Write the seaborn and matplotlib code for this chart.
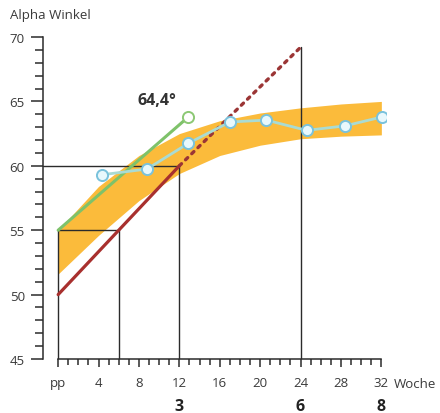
import matplotlib
matplotlib.use("Agg")
import matplotlib.pyplot as plt
import seaborn as sns

# band (normal range)
band_weeks = [0, 4, 8, 12, 16, 20, 24, 28, 32]
band_upper = [55.0, 58.4, 60.8, 62.5, 63.5, 64.1, 64.5, 64.8, 65.0]
band_lower = [51.6, 54.6, 57.3, 59.4, 60.8, 61.6, 62.1, 62.3, 62.4]

# measured alpha angle
meas_weeks = [4.3, 8.8, 12.9, 17.0, 20.6, 24.6, 28.4, 32.1]
meas_alpha = [59.3, 59.75, 61.75, 63.4, 63.55, 62.75, 63.1, 63.8]

# green line
green_weeks = [0, 12.9]
green_alpha = [55, 63.8]

# red line (solid + dotted extension)
red_weeks = [0, 12]
red_alpha = [50, 60]
red_ext_weeks = [12, 24]
red_ext_alpha = [60, 69.2]

x_ticks = [0, 4, 8, 12, 16, 20, 24, 28, 32]
x_ticklabels = ["pp", "4", "8", "12", "16", "20", "24", "28", "32"]
month_pos = [12, 24, 32]
month_labels = ["3", "6", "8"]

sns.set_theme(style="ticks")
plt.rcParams["font.family"] = ["Open Sans", "DejaVu Sans"]

fig = plt.figure(figsize=(4.4, 4.14), dpi=100)
ax = fig.add_axes([43 / 440, 54 / 414, 343.4 / 440, 322 / 414])

dark = "#2b2b2b"
txt = "#3a3a3a"

ax.fill_between(band_weeks, band_lower, band_upper, color="#fbbb3b", lw=0, zorder=1)

# guide lines
ax.plot([-1.5, 12], [60, 60], color=dark, lw=1.0, zorder=2)
ax.plot([0, 6], [55, 55], color=dark, lw=1.0, zorder=2)
ax.plot([0, 0], [45, 55], color=dark, lw=1.0, zorder=2)
ax.plot([6, 6], [45, 55], color=dark, lw=1.0, zorder=2)
ax.plot([12, 12], [45, 60], color=dark, lw=1.0, zorder=2)
ax.plot([24, 24], [45, red_ext_alpha[-1]], color=dark, lw=1.0, zorder=2)

sns.lineplot(x=red_weeks, y=red_alpha, color="#a8302e", lw=2.3, ax=ax, zorder=3)
ax.plot(red_ext_weeks, red_ext_alpha, color="#9b3535", lw=2.4,
        linestyle=(0, (0.9, 1.7)), dash_capstyle="round", zorder=3)

sns.lineplot(x=green_weeks, y=green_alpha, color="#7ec26a", lw=2.2, ax=ax, zorder=4)
ax.plot(green_weeks[-1:], green_alpha[-1:], "o", ms=8, mfc="white",
        mec="#8cc874", mew=1.4, zorder=5)

sns.lineplot(x=meas_weeks, y=meas_alpha, color="#a9dbd3", lw=2.0, ax=ax,
             marker="o", markersize=8, markerfacecolor="#e8f8fc",
             markeredgecolor="#79c2dc", markeredgewidth=1.4, zorder=5)

ax.text(9.75, 65.1, "64,4°", fontsize=11.5, fontweight="bold", color="#333333",
        ha="center", va="center")

ax.set_xlim(-1.5, 32.5)
ax.set_ylim(45, 70)
sns.despine(ax=ax)
ax.spines["left"].set_bounds(45, 70)
ax.spines["bottom"].set_bounds(0, 32)
for s in ("left", "bottom"):
    ax.spines[s].set_color(dark)
    ax.spines[s].set_linewidth(1.1)

ax.set_yticks([45, 50, 55, 60, 65, 70])
ax.set_yticks(range(45, 71), minor=True)
ax.set_xticks(x_ticks)
ax.set_xticklabels(x_ticklabels)
ax.set_xticks(range(0, 33), minor=True)
ax.tick_params(axis="y", which="major", length=8.6, width=1.1, color=dark,
               labelsize=9.5, labelcolor=txt, pad=4.5)
ax.tick_params(axis="y", which="minor", length=5.8, width=1.1, color=dark)
ax.tick_params(axis="x", which="major", length=6.0, width=1.1, color=dark,
               labelsize=9.5, labelcolor=txt, pad=6.5)
ax.tick_params(axis="x", which="minor", length=4.3, width=1.1, color=dark)
ax.set_xlabel("")
ax.set_ylabel("")

ax.annotate("Woche", xy=(33.2, 0), xycoords=ax.get_xaxis_transform(),
            xytext=(0, -18), textcoords="offset points", ha="left",
            va="center", fontsize=9.5, color=txt, annotation_clip=False)
for pos, lab in zip(month_pos, month_labels):
    ax.annotate(lab, xy=(pos, 0), xycoords=ax.get_xaxis_transform(),
                xytext=(0, -34), textcoords="offset points", ha="center",
                va="center", fontsize=11.5, fontweight="bold", color="#222222",
                annotation_clip=False)

fig.text(10 / 440, 1 - 16 / 414, "Alpha Winkel", fontsize=9.5, color=txt,
         ha="left", va="center")

fig.savefig("out.png", dpi=100, facecolor="white")
